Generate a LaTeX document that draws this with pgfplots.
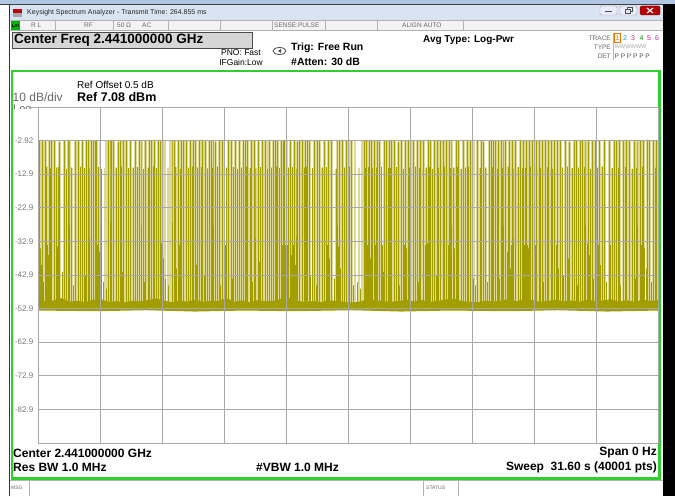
\documentclass[border=0pt]{standalone}
\usepackage{pgfplots}
\pgfplotsset{compat=1.18}
\usepackage{pgfplotstable}
\usepackage{fontspec}
\setmainfont{Liberation Sans}

\definecolor{trace}{RGB}{163,158,0}
\definecolor{tracepale}{RGB}{222,218,150}
\definecolor{scrgreen}{RGB}{46,208,46}
\definecolor{gridgray}{RGB}{168,168,168}
\definecolor{titlebar}{RGB}{216,228,242}
\definecolor{topband}{RGB}{176,198,226}
\definecolor{rowgray}{RGB}{243,243,243}
\definecolor{boxgray}{RGB}{214,214,214}
\definecolor{labgray}{RGB}{120,120,120}
\newcommand{\fs}[1]{\fontsize{#1}{#1}\selectfont}

% zero span trace, one spike per burst: floor, peak, floor
% bursts reaching ~ -2.8 dBm
\pgfplotstableread[row sep=\\]{
x y\\
0.10 -52\\0.10 -2.8\\0.10 -52\\0.24 -52\\0.24 -2.7\\0.24 -52\\0.37 -52\\0.37 -2.8\\0.37 -52\\
0.58 -52\\0.58 -2.8\\0.58 -52\\0.71 -52\\0.71 -2.9\\0.71 -52\\0.82 -52\\0.82 -2.8\\0.82 -52\\
1.12 -52\\1.12 -3.2\\1.12 -52\\1.33 -52\\1.33 -2.8\\1.33 -52\\1.53 -52\\1.53 -2.7\\1.53 -52\\
1.63 -52\\1.63 -2.8\\1.63 -52\\1.90 -52\\1.90 -2.8\\1.90 -52\\2.07 -52\\2.07 -2.9\\2.07 -52\\
2.28 -52\\2.28 -2.8\\2.28 -52\\2.48 -52\\2.48 -2.8\\2.48 -52\\2.58 -52\\2.58 -2.7\\2.58 -52\\
2.72 -52\\2.72 -2.8\\2.72 -52\\2.82 -52\\2.82 -2.8\\2.82 -52\\2.92 -52\\2.92 -3.0\\2.92 -52\\
2.99 -52\\2.99 -2.8\\2.99 -52\\3.57 -52\\3.57 -2.8\\3.57 -52\\3.67 -52\\3.67 -2.7\\3.67 -52\\
3.77 -52\\3.77 -2.8\\3.77 -52\\3.87 -52\\3.87 -2.8\\3.87 -52\\4.08 -52\\4.08 -3.2\\4.08 -52\\
4.18 -52\\4.18 -2.8\\4.18 -52\\4.35 -52\\4.35 -2.8\\4.35 -52\\4.52 -52\\4.52 -2.9\\4.52 -52\\
4.72 -52\\4.72 -2.8\\4.72 -52\\4.96 -52\\4.96 -2.7\\4.96 -52\\5.16 -52\\5.16 -2.8\\5.16 -52\\
5.30 -52\\5.30 -2.8\\5.30 -52\\5.50 -52\\5.50 -2.8\\5.50 -52\\5.67 -52\\5.67 -3.0\\5.67 -52\\
5.78 -52\\5.78 -2.8\\5.78 -52\\5.95 -52\\5.95 -2.8\\5.95 -52\\6.12 -52\\6.12 -2.7\\6.12 -52\\
6.22 -52\\6.22 -2.8\\6.22 -52\\6.83 -52\\6.83 -2.8\\6.83 -52\\6.97 -52\\6.97 -2.9\\6.97 -52\\
7.14 -52\\7.14 -2.8\\7.14 -52\\7.30 -52\\7.30 -2.8\\7.30 -52\\7.44 -52\\7.44 -2.7\\7.44 -52\\
7.58 -52\\7.58 -2.8\\7.58 -52\\7.75 -52\\7.75 -2.8\\7.75 -52\\7.92 -52\\7.92 -3.0\\7.92 -52\\
8.05 -52\\8.05 -2.8\\8.05 -52\\8.22 -52\\8.22 -2.8\\8.22 -52\\8.39 -52\\8.39 -2.7\\8.39 -52\\
8.56 -52\\8.56 -2.8\\8.56 -52\\8.73 -52\\8.73 -2.9\\8.73 -52\\8.83 -52\\8.83 -2.8\\8.83 -52\\
8.97 -52\\8.97 -2.8\\8.97 -52\\9.07 -52\\9.07 -3.2\\9.07 -52\\9.24 -52\\9.24 -2.8\\9.24 -52\\
9.38 -52\\9.38 -2.8\\9.38 -52\\9.72 -52\\9.72 -2.7\\9.72 -52\\9.85 -52\\9.85 -2.8\\9.85 -52\\
10.09 -52\\10.09 -2.8\\10.09 -52\\10.26 -52\\10.26 -2.9\\10.26 -52\\10.47 -52\\10.47 -2.8\\10.47 -52\\
10.57 -52\\10.57 -2.8\\10.57 -52\\10.70 -52\\10.70 -2.7\\10.70 -52\\10.87 -52\\10.87 -2.8\\10.87 -52\\
11.01 -52\\11.01 -2.8\\11.01 -52\\11.25 -52\\11.25 -3.0\\11.25 -52\\11.45 -52\\11.45 -2.8\\11.45 -52\\
11.59 -52\\11.59 -2.8\\11.59 -52\\11.79 -52\\11.79 -2.7\\11.79 -52\\11.99 -52\\11.99 -2.8\\11.99 -52\\
12.10 -52\\12.10 -2.8\\12.10 -52\\12.23 -52\\12.23 -2.9\\12.23 -52\\12.40 -52\\12.40 -2.8\\12.40 -52\\
12.50 -52\\12.50 -2.8\\12.50 -52\\12.57 -52\\12.57 -2.7\\12.57 -52\\12.67 -52\\12.67 -2.8\\12.67 -52\\
12.88 -52\\12.88 -2.8\\12.88 -52\\13.05 -52\\13.05 -2.8\\13.05 -52\\13.22 -52\\13.22 -3.2\\13.22 -52\\
13.35 -52\\13.35 -2.8\\13.35 -52\\13.46 -52\\13.46 -2.7\\13.46 -52\\13.63 -52\\13.63 -2.8\\13.63 -52\\
13.76 -52\\13.76 -2.8\\13.76 -52\\13.86 -52\\13.86 -2.9\\13.86 -52\\14.10 -52\\14.10 -2.8\\14.10 -52\\
14.24 -52\\14.24 -2.8\\14.24 -52\\14.37 -52\\14.37 -2.7\\14.37 -52\\14.61 -52\\14.61 -2.8\\14.61 -52\\
14.82 -52\\14.82 -2.8\\14.82 -52\\14.95 -52\\14.95 -3.0\\14.95 -52\\15.29 -52\\15.29 -2.8\\15.29 -52\\
15.39 -52\\15.39 -2.8\\15.39 -52\\15.50 -52\\15.50 -2.7\\15.50 -52\\15.70 -52\\15.70 -2.8\\15.70 -52\\
15.84 -52\\15.84 -2.8\\15.84 -52\\15.97 -52\\15.97 -2.9\\15.97 -52\\
16.62 -52\\16.62 -2.8\\16.62 -52\\16.75 -52\\16.75 -2.8\\16.75 -52\\16.89 -52\\16.89 -2.7\\16.89 -52\\
16.99 -52\\16.99 -2.8\\16.99 -52\\17.13 -52\\17.13 -2.9\\17.13 -52\\17.29 -52\\17.29 -2.8\\17.29 -52\\
17.40 -52\\17.40 -2.8\\17.40 -52\\17.64 -52\\17.64 -3.0\\17.64 -52\\17.74 -52\\17.74 -2.8\\17.74 -52\\
17.91 -52\\17.91 -2.8\\17.91 -52\\18.04 -52\\18.04 -2.7\\18.04 -52\\18.18 -52\\18.18 -2.8\\18.18 -52\\
18.38 -52\\18.38 -3.2\\18.38 -52\\18.52 -52\\18.52 -2.8\\18.52 -52\\18.72 -52\\18.72 -2.8\\18.72 -52\\
18.86 -52\\18.86 -2.7\\18.86 -52\\19.00 -52\\19.00 -2.8\\19.00 -52\\19.13 -52\\19.13 -2.8\\19.13 -52\\
19.33 -52\\19.33 -2.9\\19.33 -52\\19.51 -52\\19.51 -2.8\\19.51 -52\\19.67 -52\\19.67 -2.8\\19.67 -52\\
19.88 -52\\19.88 -2.7\\19.88 -52\\20.01 -52\\20.01 -2.8\\20.01 -52\\20.22 -52\\20.22 -2.8\\20.22 -52\\
20.35 -52\\20.35 -3.0\\20.35 -52\\20.49 -52\\20.49 -2.8\\20.49 -52\\20.66 -52\\20.66 -2.8\\20.66 -52\\
20.80 -52\\20.80 -2.7\\20.80 -52\\20.96 -52\\20.96 -2.8\\20.96 -52\\21.10 -52\\21.10 -2.8\\21.10 -52\\
21.31 -52\\21.31 -2.9\\21.31 -52\\21.44 -52\\21.44 -2.8\\21.44 -52\\21.68 -52\\21.68 -2.8\\21.68 -52\\
21.88 -52\\21.88 -2.7\\21.88 -52\\22.05 -52\\22.05 -2.8\\22.05 -52\\22.39 -52\\22.39 -2.8\\22.39 -52\\
22.59 -52\\22.59 -2.8\\22.59 -52\\22.73 -52\\22.73 -3.2\\22.73 -52\\23.00 -52\\23.00 -2.8\\23.00 -52\\
23.11 -52\\23.11 -2.7\\23.11 -52\\23.24 -52\\23.24 -2.8\\23.24 -52\\23.34 -52\\23.34 -2.8\\23.34 -52\\
23.48 -52\\23.48 -2.9\\23.48 -52\\23.61 -52\\23.61 -2.8\\23.61 -52\\23.75 -52\\23.75 -2.8\\23.75 -52\\
23.85 -52\\23.85 -2.7\\23.85 -52\\24.02 -52\\24.02 -2.8\\24.02 -52\\
24.19 -52\\24.19 -2.8\\24.19 -52\\24.36 -52\\24.36 -2.8\\24.36 -52\\24.57 -52\\24.57 -2.7\\24.57 -52\\
24.74 -52\\24.74 -2.8\\24.74 -52\\24.91 -52\\24.91 -2.9\\24.91 -52\\25.04 -52\\25.04 -2.8\\25.04 -52\\
25.18 -52\\25.18 -2.8\\25.18 -52\\25.42 -52\\25.42 -3.0\\25.42 -52\\25.55 -52\\25.55 -2.8\\25.55 -52\\
25.69 -52\\25.69 -2.8\\25.69 -52\\25.86 -52\\25.86 -2.7\\25.86 -52\\26.03 -52\\26.03 -2.8\\26.03 -52\\
26.16 -52\\26.16 -2.8\\26.16 -52\\26.30 -52\\26.30 -2.9\\26.30 -52\\26.47 -52\\26.47 -2.8\\26.47 -52\\
26.61 -52\\26.61 -2.8\\26.61 -52\\26.88 -52\\26.88 -2.7\\26.88 -52\\27.08 -52\\27.08 -3.2\\27.08 -52\\
27.32 -52\\27.32 -2.8\\27.32 -52\\27.46 -52\\27.46 -2.8\\27.46 -52\\27.66 -52\\27.66 -2.8\\27.66 -52\\
27.76 -52\\27.76 -2.7\\27.76 -52\\27.93 -52\\27.93 -2.8\\27.93 -52\\28.07 -52\\28.07 -2.8\\28.07 -52\\
28.24 -52\\28.24 -2.9\\28.24 -52\\28.41 -52\\28.41 -2.8\\28.41 -52\\28.61 -52\\28.61 -2.8\\28.61 -52\\
28.88 -52\\28.88 -2.7\\28.88 -52\\29.15 -52\\29.15 -2.8\\29.15 -52\\29.36 -52\\29.36 -2.8\\29.36 -52\\
29.50 -52\\29.50 -3.0\\29.50 -52\\29.66 -52\\29.66 -2.8\\29.66 -52\\29.83 -52\\29.83 -2.8\\29.83 -52\\
30.01 -52\\30.01 -2.7\\30.01 -52\\30.17 -52\\30.17 -2.8\\30.17 -52\\30.38 -52\\30.38 -2.8\\30.38 -52\\
30.58 -52\\30.58 -2.9\\30.58 -52\\30.72 -52\\30.72 -2.8\\30.72 -52\\30.85 -52\\30.85 -2.8\\30.85 -52\\
31.06 -52\\31.06 -2.7\\31.06 -52\\31.19 -52\\31.19 -2.8\\31.19 -52\\31.36 -52\\31.36 -2.8\\31.36 -52\\
31.50 -52\\31.50 -2.8\\31.50 -52\\
}\talltab

% bursts reaching ~ -11 dBm
\pgfplotstableread[row sep=\\]{
x y\\
0.05 -52\\0.05 -11.0\\0.05 -52\\0.44 -52\\0.44 -10.7\\0.44 -52\\0.65 -52\\0.65 -11.2\\0.65 -52\\
0.92 -52\\0.92 -11.0\\0.92 -52\\1.02 -52\\1.02 -10.8\\1.02 -52\\1.43 -52\\1.43 -11.3\\1.43 -52\\
1.73 -52\\1.73 -11.0\\1.73 -52\\2.18 -52\\2.18 -10.7\\2.18 -52\\2.38 -52\\2.38 -11.1\\2.38 -52\\
2.65 -52\\2.65 -11.0\\2.65 -52\\3.06 -52\\3.06 -10.8\\3.06 -52\\3.23 -52\\3.23 -11.3\\3.23 -52\\
3.98 -52\\3.98 -11.0\\3.98 -52\\4.28 -52\\4.28 -10.7\\4.28 -52\\4.62 -52\\4.62 -11.1\\4.62 -52\\
4.86 -52\\4.86 -11.0\\4.86 -52\\5.06 -52\\5.06 -10.8\\5.06 -52\\5.40 -52\\5.40 -11.3\\5.40 -52\\
5.61 -52\\5.61 -11.0\\5.61 -52\\5.88 -52\\5.88 -10.7\\5.88 -52\\6.05 -52\\6.05 -11.1\\6.05 -52\\
6.36 -52\\6.36 -11.0\\6.36 -52\\7.03 -52\\7.03 -10.8\\7.03 -52\\7.24 -52\\7.24 -11.3\\7.24 -52\\
7.65 -52\\7.65 -11.0\\7.65 -52\\7.85 -52\\7.85 -10.7\\7.85 -52\\
8.12 -52\\8.12 -11.0\\8.12 -52\\8.33 -52\\8.33 -10.8\\8.33 -52\\8.63 -52\\8.63 -11.2\\8.63 -52\\
8.90 -52\\8.90 -11.0\\8.90 -52\\9.17 -52\\9.17 -10.7\\9.17 -52\\9.48 -52\\9.48 -11.1\\9.48 -52\\
9.62 -52\\9.62 -11.0\\9.62 -52\\9.96 -52\\9.96 -10.8\\9.96 -52\\10.16 -52\\10.16 -11.3\\10.16 -52\\
10.36 -52\\10.36 -11.0\\10.36 -52\\10.64 -52\\10.64 -10.7\\10.64 -52\\10.81 -52\\10.81 -11.1\\10.81 -52\\
11.11 -52\\11.11 -11.0\\11.11 -52\\11.35 -52\\11.35 -10.8\\11.35 -52\\11.69 -52\\11.69 -11.3\\11.69 -52\\
11.89 -52\\11.89 -11.0\\11.89 -52\\12.17 -52\\12.17 -10.7\\12.17 -52\\12.30 -52\\12.30 -11.1\\12.30 -52\\
12.78 -52\\12.78 -11.0\\12.78 -52\\12.98 -52\\12.98 -10.8\\12.98 -52\\13.15 -52\\13.15 -11.3\\13.15 -52\\
13.56 -52\\13.56 -11.0\\13.56 -52\\13.69 -52\\13.69 -10.7\\13.69 -52\\14.00 -52\\14.00 -11.1\\14.00 -52\\
14.48 -52\\14.48 -11.0\\14.48 -52\\14.71 -52\\14.71 -10.8\\14.71 -52\\15.19 -52\\15.19 -11.3\\15.19 -52\\
15.60 -52\\15.60 -11.0\\15.60 -52\\15.90 -52\\15.90 -10.7\\15.90 -52\\
16.68 -52\\16.68 -11.0\\16.68 -52\\16.82 -52\\16.82 -10.8\\16.82 -52\\17.06 -52\\17.06 -11.2\\17.06 -52\\
17.23 -52\\17.23 -11.0\\17.23 -52\\17.50 -52\\17.50 -10.7\\17.50 -52\\17.84 -52\\17.84 -11.1\\17.84 -52\\
17.98 -52\\17.98 -11.0\\17.98 -52\\18.28 -52\\18.28 -10.8\\18.28 -52\\18.62 -52\\18.62 -11.3\\18.62 -52\\
18.93 -52\\18.93 -11.0\\18.93 -52\\19.23 -52\\19.23 -10.7\\19.23 -52\\19.44 -52\\19.44 -11.1\\19.44 -52\\
19.78 -52\\19.78 -11.0\\19.78 -52\\19.95 -52\\19.95 -10.8\\19.95 -52\\20.12 -52\\20.12 -11.3\\20.12 -52\\
20.42 -52\\20.42 -11.0\\20.42 -52\\20.73 -52\\20.73 -10.7\\20.73 -52\\21.03 -52\\21.03 -11.1\\21.03 -52\\
21.20 -52\\21.20 -11.0\\21.20 -52\\21.37 -52\\21.37 -10.8\\21.37 -52\\21.58 -52\\21.58 -11.3\\21.58 -52\\
21.78 -52\\21.78 -11.0\\21.78 -52\\21.95 -52\\21.95 -10.7\\21.95 -52\\22.53 -52\\22.53 -11.1\\22.53 -52\\
22.83 -52\\22.83 -11.0\\22.83 -52\\23.14 -52\\23.14 -10.8\\23.14 -52\\23.41 -52\\23.41 -11.3\\23.41 -52\\
23.69 -52\\23.69 -11.0\\23.69 -52\\23.96 -52\\23.96 -10.7\\23.96 -52\\
24.26 -52\\24.26 -11.0\\24.26 -52\\24.47 -52\\24.47 -10.8\\24.47 -52\\24.67 -52\\24.67 -11.2\\24.67 -52\\
24.84 -52\\24.84 -11.0\\24.84 -52\\25.11 -52\\25.11 -10.7\\25.11 -52\\25.28 -52\\25.28 -11.1\\25.28 -52\\
25.62 -52\\25.62 -11.0\\25.62 -52\\25.96 -52\\25.96 -10.8\\25.96 -52\\26.23 -52\\26.23 -11.3\\26.23 -52\\
26.71 -52\\26.71 -11.0\\26.71 -52\\26.98 -52\\26.98 -10.7\\26.98 -52\\27.22 -52\\27.22 -11.1\\27.22 -52\\
27.56 -52\\27.56 -11.0\\27.56 -52\\27.87 -52\\27.87 -10.8\\27.87 -52\\28.17 -52\\28.17 -11.3\\28.17 -52\\
28.51 -52\\28.51 -11.0\\28.51 -52\\28.75 -52\\28.75 -10.7\\28.75 -52\\29.26 -52\\29.26 -11.1\\29.26 -52\\
29.60 -52\\29.60 -11.0\\29.60 -52\\29.93 -52\\29.93 -10.8\\29.93 -52\\30.28 -52\\30.28 -11.3\\30.28 -52\\
30.52 -52\\30.52 -11.0\\30.52 -52\\30.79 -52\\30.79 -10.7\\30.79 -52\\31.16 -52\\31.16 -11.1\\31.16 -52\\
31.46 -52\\31.46 -11.0\\31.46 -52\\
}\midtab

% faint (thin) bursts seen as pale columns
\pgfplotstableread[row sep=\\]{
x y\\
3.15 -52\\3.15 -2.8\\3.15 -52\\3.40 -52\\3.40 -11.0\\3.40 -52\\3.48 -52\\3.48 -2.8\\3.48 -52\\
6.45 -52\\6.45 -2.8\\6.45 -52\\6.62 -52\\6.62 -11.0\\6.62 -52\\6.72 -52\\6.72 -2.8\\6.72 -52\\
11.70 -52\\11.70 -2.8\\11.70 -52\\16.15 -52\\16.15 -2.8\\16.15 -52\\16.36 -52\\16.36 -11.0\\16.36 -52\\
16.50 -52\\16.50 -2.8\\16.50 -52\\22.22 -52\\22.22 -2.8\\22.22 -52\\
}\paletab

% weak bursts and noise spikes (-34 ... -47 dBm)
\pgfplotstableread[row sep=\\]{
x y\\
0.03 -52\\0.03 -34\\0.03 -52\\0.08 -52\\0.08 -33.5\\0.08 -52\\0.15 -52\\0.15 -35\\0.15 -52\\
0.20 -52\\0.20 -40\\0.20 -52\\0.50 -52\\0.50 -34\\0.50 -52\\0.55 -52\\0.55 -37\\0.55 -52\\
1.00 -52\\1.00 -34.5\\1.00 -52\\1.07 -52\\1.07 -39\\1.07 -52\\1.23 -52\\1.23 -42\\1.23 -52\\
2.85 -52\\2.85 -34\\2.85 -52\\2.95 -52\\2.95 -33.5\\2.95 -52\\3.05 -52\\3.05 -34\\3.05 -52\\
3.12 -52\\3.12 -36\\3.12 -52\\3.20 -52\\3.20 -40\\3.20 -52\\4.32 -52\\4.32 -42\\4.32 -52\\
5.95 -52\\5.95 -34\\5.95 -52\\6.02 -52\\6.02 -35\\6.02 -52\\6.15 -52\\6.15 -34\\6.15 -52\\
6.30 -52\\6.30 -33.5\\6.30 -52\\6.40 -52\\6.40 -38\\6.40 -52\\7.05 -52\\7.05 -41\\7.05 -52\\
7.20 -52\\7.20 -34\\7.20 -52\\8.00 -52\\8.00 -34.5\\8.00 -52\\8.06 -52\\8.06 -40\\8.06 -52\\
9.42 -52\\9.42 -34\\9.42 -52\\9.50 -52\\9.50 -33.5\\9.50 -52\\9.55 -52\\9.55 -34\\9.55 -52\\
9.60 -52\\9.60 -37\\9.60 -52\\10.45 -52\\10.45 -34\\10.45 -52\\10.55 -52\\10.55 -38\\10.55 -52\\
10.62 -52\\10.62 -42\\10.62 -52\\11.22 -52\\11.22 -34\\11.22 -52\\11.30 -52\\11.30 -39\\11.30 -52\\
12.45 -52\\12.45 -34\\12.45 -52\\12.52 -52\\12.52 -33.5\\12.52 -52\\12.60 -52\\12.60 -34\\12.60 -52\\
12.62 -52\\12.62 -35\\12.62 -52\\12.70 -52\\12.70 -34\\12.70 -52\\12.90 -52\\12.90 -37\\12.90 -52\\
13.00 -52\\13.00 -34\\13.00 -52\\13.10 -52\\13.10 -40\\13.10 -52\\14.75 -52\\14.75 -34\\14.75 -52\\
14.85 -52\\14.85 -38\\14.85 -52\\15.30 -52\\15.30 -34.5\\15.30 -52\\15.40 -52\\15.40 -41\\15.40 -52\\
16.65 -52\\16.65 -34\\16.65 -52\\16.72 -52\\16.72 -33.5\\16.72 -52\\16.78 -52\\16.78 -34\\16.78 -52\\
16.85 -52\\16.85 -35\\16.85 -52\\16.92 -52\\16.92 -38\\16.92 -52\\17.18 -52\\17.18 -34\\17.18 -52\\
17.26 -52\\17.26 -39\\17.26 -52\\17.55 -52\\17.55 -34\\17.55 -52\\17.60 -52\\17.60 -42\\17.60 -52\\
18.70 -52\\18.70 -34\\18.70 -52\\18.80 -52\\18.80 -35\\18.80 -52\\18.90 -52\\18.90 -40\\18.90 -52\\
19.75 -52\\19.75 -34\\19.75 -52\\19.85 -52\\19.85 -33.5\\19.85 -52\\19.92 -52\\19.92 -37\\19.92 -52\\
20.90 -52\\20.90 -34\\20.90 -52\\21.00 -52\\21.00 -33.5\\21.00 -52\\21.15 -52\\21.15 -34\\21.15 -52\\
21.25 -52\\21.25 -35\\21.25 -52\\21.40 -52\\21.40 -39\\21.40 -52\\23.80 -52\\23.80 -34\\23.80 -52\\
23.92 -52\\23.92 -36\\23.92 -52\\24.05 -52\\24.05 -34\\24.05 -52\\24.10 -52\\24.10 -41\\24.10 -52\\
24.15 -52\\24.15 -34\\24.15 -52\\24.80 -52\\24.80 -34\\24.80 -52\\24.88 -52\\24.88 -33.5\\24.88 -52\\
24.95 -52\\24.95 -34\\24.95 -52\\25.00 -52\\25.00 -35\\25.00 -52\\25.08 -52\\25.08 -38\\25.08 -52\\
25.35 -52\\25.35 -34\\25.35 -52\\25.40 -52\\25.40 -40\\25.40 -52\\26.40 -52\\26.40 -34\\26.40 -52\\
26.50 -52\\26.50 -36\\26.50 -52\\26.55 -52\\26.55 -41\\26.55 -52\\27.00 -52\\27.00 -34\\27.00 -52\\
27.05 -52\\27.05 -38\\27.05 -52\\27.90 -52\\27.90 -34\\27.90 -52\\28.00 -52\\28.00 -33.5\\28.00 -52\\
28.10 -52\\28.10 -37\\28.10 -52\\28.55 -52\\28.55 -34\\28.55 -52\\28.65 -52\\28.65 -40\\28.65 -52\\
29.20 -52\\29.20 -34\\29.20 -52\\29.30 -52\\29.30 -33.5\\29.30 -52\\29.40 -52\\29.40 -36\\29.40 -52\\
29.85 -52\\29.85 -34\\29.85 -52\\29.95 -52\\29.95 -39\\29.95 -52\\30.75 -52\\30.75 -34\\30.75 -52\\
30.90 -52\\30.90 -35\\30.90 -52\\31.00 -52\\31.00 -41\\31.00 -52\\
0.30 -52\\0.30 -45\\0.30 -52\\0.95 -52\\0.95 -44\\0.95 -52\\1.80 -52\\1.80 -46\\1.80 -52\\
2.40 -52\\2.40 -43\\2.40 -52\\3.35 -52\\3.35 -45\\3.35 -52\\3.50 -52\\3.50 -47\\3.50 -52\\
4.00 -52\\4.00 -44\\4.00 -52\\4.60 -52\\4.60 -46\\4.60 -52\\5.40 -52\\5.40 -45\\5.40 -52\\
6.50 -52\\6.50 -44\\6.50 -52\\6.65 -52\\6.65 -46\\6.65 -52\\7.40 -52\\7.40 -45\\7.40 -52\\
8.50 -52\\8.50 -43\\8.50 -52\\9.30 -52\\9.30 -46\\9.30 -52\\9.90 -52\\9.90 -44\\9.90 -52\\
10.95 -52\\10.95 -45\\10.95 -52\\11.60 -52\\11.60 -46\\11.60 -52\\12.00 -52\\12.00 -44\\12.00 -52\\
13.30 -52\\13.30 -45\\13.30 -52\\13.90 -52\\13.90 -43\\13.90 -52\\14.20 -52\\14.20 -46\\14.20 -52\\
15.10 -52\\15.10 -44\\15.10 -52\\15.60 -52\\15.60 -45\\15.60 -52\\16.10 -52\\16.10 -46\\16.10 -52\\
16.30 -52\\16.30 -45\\16.30 -52\\16.45 -52\\16.45 -47\\16.45 -52\\17.85 -52\\17.85 -44\\17.85 -52\\
18.40 -52\\18.40 -46\\18.40 -52\\19.40 -52\\19.40 -45\\19.40 -52\\20.30 -52\\20.30 -43\\20.30 -52\\
21.60 -52\\21.60 -46\\21.60 -52\\22.20 -52\\22.20 -44\\22.20 -52\\22.30 -52\\22.30 -46\\22.30 -52\\
22.90 -52\\22.90 -45\\22.90 -52\\23.50 -52\\23.50 -44\\23.50 -52\\24.60 -52\\24.60 -46\\24.60 -52\\
25.75 -52\\25.75 -45\\25.75 -52\\26.80 -52\\26.80 -43\\26.80 -52\\27.50 -52\\27.50 -46\\27.50 -52\\
28.30 -52\\28.30 -44\\28.30 -52\\28.95 -52\\28.95 -45\\28.95 -52\\29.70 -52\\29.70 -46\\29.70 -52\\
30.45 -52\\30.45 -44\\30.45 -52\\31.25 -52\\31.25 -45\\31.25 -52\\
}\lowtab

\begin{document}
\begin{tikzpicture}[x=1pt,y=1pt]
\useasboundingbox (0,0) rectangle (675,496);
\fill[white] (0,0) rectangle (675,496);
% window chrome
\fill[topband] (0,492) rectangle (675,496);
\draw[black!75, line width=0.8pt] (0,491.8) -- (675,491.8);
\fill[black] (663,0) rectangle (675,491.5);
\fill[titlebar] (10,476) rectangle (663,491.4);
\draw[black!80, line width=1pt] (9.5,0) -- (9.5,491.5);
\fill[red!75!black] (12.5,483) rectangle (21.5,487);
\fill[gray!70] (12.5,479) rectangle (21.5,483);
\node[anchor=west, inner sep=0pt, text=black!85] at (27,483.5) {\fs{7}Keysight Spectrum Analyzer - Transmit Time: 264.855 ms};
\filldraw[fill=blue!8, draw=gray!70, rounded corners=1.5pt] (600,481) rectangle (617,490);
\draw[black!70, line width=1pt] (605,484) -- (612,484);
\filldraw[fill=blue!8, draw=gray!70, rounded corners=1.5pt] (620,481) rectangle (637,490);
\draw[black!70] (625,483) rectangle (630,487) (627,487) -- (627,489) -- (632,489) -- (632,485) -- (630,485);
\filldraw[fill=red!70!black, draw=red!50!black, rounded corners=1.5pt] (640,481) rectangle (660,490);
\draw[white, line width=1.2pt] (647,483) -- (653,488) (647,488) -- (653,483);
% status row
\fill[rowgray] (10,465) rectangle (663,476);
\draw[gray!60] (10,465.3) -- (663,465.3) (10,475.7) -- (663,475.7);
\foreach \sx in {55,113,168,220,272,325,377,463} \draw[gray!60] (\sx,465) -- (\sx,476);
\fill[green!70!black] (10.5,466) rectangle (20,475);
\node[inner sep=0pt] at (15.3,470.5) {\fs{4.5}\bfseries LXI};
\begin{scope}[every node/.style={anchor=west, inner sep=0pt, text=black!60}]
\node at (31,470.5) {\fs{6.5}R L};
\node at (84,470.5) {\fs{6.5}RF};
\node at (117,470.5) {\fs{6.5}50 Ω};
\node at (142,470.5) {\fs{6.5}AC};
\node at (274,470.5) {\fs{6.5}SENSE:PULSE};
\node at (402,470.5) {\fs{6.5}ALIGN AUTO};
\end{scope}
% measurement header
\filldraw[fill=boxgray, draw=black!70, line width=0.8pt] (12,448) rectangle (252,464);
\node[anchor=west, inner sep=0pt] at (14,456) {\fs{13.5}\bfseries Center Freq 2.441000000 GHz};
\node[anchor=east, inner sep=0pt] at (261,443) {\fs{8.5}PNO: Fast};
\node[anchor=east, inner sep=0pt] at (263,434) {\fs{8.5}IFGain:Low};
\draw[black!70, line width=0.8pt] (279.5,445) ellipse (6.5 and 3.5);
\fill[black!70] (278,445) -- (281,447) -- (281,443) -- cycle;
\node[anchor=west, inner sep=0pt] at (291,448) {\fs{10.5}\bfseries Trig: Free Run};
\node[anchor=west, inner sep=0pt] at (291,434.5) {\fs{10.5}\bfseries \#Atten: 30 dB};
\node[anchor=west, inner sep=0pt] at (423,456) {\fs{10}\bfseries Avg Type: Log-Pwr};
\begin{scope}[every node/.style={inner sep=0pt}]
\node[anchor=east, text=black!60] at (611,458) {\fs{6.5}TRACE};
\node[anchor=east, text=black!60] at (611,449) {\fs{6.5}TYPE};
\node[anchor=east, text=black!60] at (611,440) {\fs{6.5}DET};
\draw[gray!60] (613.5,436) -- (613.5,463);
\draw[orange!90!black, line width=0.5pt] (614,453.5) rectangle (620.5,462.5);
\node[text=orange!90!black] at (617.2,458) {\fs{7}1};
\node[text=cyan!80!black] at (625,458) {\fs{7}2};
\node[text=magenta!80!black] at (633,458) {\fs{7}3};
\node[text=green!60!black] at (641.5,458) {\fs{7}4};
\node[text=magenta] at (649,458) {\fs{7}5};
\node[text=violet!80] at (657,458) {\fs{7}6};
\node[anchor=west, text=black!35] at (614.5,449) {\fs{5.6}WWWWWW};
\node[anchor=west, text=black!70] at (614.5,440) {\fs{6.5}P P P P P P};
\end{scope}
% screen
\draw[scrgreen, line width=2.6pt] (12,17.5) rectangle (659.5,425);
\node[anchor=west, inner sep=0pt] at (77,411) {\fs{10}Ref Offset 0.5 dB};
\node[anchor=west, inner sep=0pt] at (77,398.5) {\fs{12.5}\bfseries Ref 7.08 dBm};
\node[anchor=west, inner sep=0pt, text=black!60] at (12.5,398.8) {\fs{12}10 dB/div};
\begin{scope}
\clip (12,387) rectangle (36,393);
\node[anchor=base west, inner sep=0pt, text=black!60] at (13,383.6) {\fs{11}Log};
\end{scope}
\draw[gridgray, line width=0.8pt] (30,389) -- (38,389);
\begin{axis}[
  at={(38pt,53pt)}, anchor=south west,
  scale only axis, width=620pt, height=336pt,
  xmin=0, xmax=31.6, ymin=-92.92, ymax=7.08,
  xtick={0,3.16,6.32,9.48,12.64,15.8,18.96,22.12,25.28,28.44,31.6},
  xticklabels={},
  ytick={-82.92,-72.92,-62.92,-52.92,-42.92,-32.92,-22.92,-12.92,-2.92},
  yticklabels={-82.9,-72.9,-62.9,-52.9,-42.9,-32.9,-22.9,-12.9,-2.92},
  major tick length=0pt,
  grid=major,
  major grid style={draw=gridgray, line width=0.8pt},
  axis line style={draw=gridgray, line width=0.8pt},
  yticklabel style={font=\fs{8}, text=labgray, anchor=east, inner sep=0pt, xshift=-4.5pt},
  axis on top,
]
\addplot[draw=tracepale, line width=3pt, line join=bevel] table {\talltab};
\addplot[draw=tracepale, line width=2.2pt, line join=bevel] table {\midtab};
\addplot[draw=tracepale, line width=2.2pt, line join=bevel] table {\paletab};
\addplot[draw=trace, line width=1pt, line join=bevel] table {\talltab};
\addplot[draw=trace, line width=1pt, line join=bevel] table {\midtab};
\addplot[draw=trace, line width=0.9pt, line join=bevel] table {\lowtab};
% noise floor band
\addplot[fill=trace, draw=none] coordinates {
(0,-50.2)(0.4,-50.8)(0.8,-50.5)(1.2,-49.8)(1.6,-50.9)(2.0,-50.6)(2.4,-51.0)(2.8,-50.3)
(3.2,-50.1)(3.6,-50.9)(4.0,-50.7)(4.4,-51.1)(4.8,-50.6)(5.2,-50.8)(5.6,-50.4)(6.0,-49.9)
(6.4,-50.5)(6.8,-51.0)(7.2,-50.6)(7.6,-50.8)(8.0,-50.3)(8.4,-50.9)(8.8,-50.6)(9.2,-50.7)
(9.6,-49.8)(10.0,-50.9)(10.4,-50.5)(10.8,-51.0)(11.2,-50.4)(11.6,-50.8)(12.0,-50.6)(12.4,-50.0)
(12.8,-49.7)(13.2,-50.6)(13.6,-50.9)(14.0,-50.7)(14.4,-51.0)(14.8,-50.5)(15.2,-50.6)(15.6,-50.9)
(16.0,-51.1)(16.4,-50.8)(16.8,-50.2)(17.2,-50.5)(17.6,-50.7)(18.0,-50.9)(18.4,-50.6)(18.8,-50.3)
(19.2,-50.8)(19.6,-50.4)(20.0,-50.9)(20.4,-50.6)(20.8,-50.2)(21.2,-50.0)(21.6,-50.7)(22.0,-50.9)
(22.4,-51.0)(22.8,-50.6)(23.2,-50.8)(23.6,-50.5)(24.0,-50.1)(24.4,-50.7)(24.8,-50.0)(25.2,-50.4)
(25.6,-50.9)(26.0,-50.6)(26.4,-50.3)(26.8,-50.8)(27.2,-50.5)(27.6,-50.9)(28.0,-50.3)(28.4,-50.7)
(28.8,-50.5)(29.2,-50.1)(29.6,-50.8)(30.0,-50.4)(30.4,-50.9)(30.8,-50.3)(31.2,-50.6)(31.6,-50.4)
(31.6,-53.5)(29.0,-53.8)(26.5,-53.4)(24.0,-53.7)(21.0,-53.5)(18.5,-53.8)(16.0,-53.4)
(13.0,-53.7)(10.5,-53.5)(8.0,-53.8)(5.5,-53.4)(3.0,-53.7)(0,-53.5)
};
\draw[black!50, line width=1.6pt] (rel axis cs:0,0) -- (rel axis cs:0,1);
\end{axis}
% footer
\node[anchor=west, inner sep=0pt] at (13,43) {\fs{12}\bfseries Center 2.441000000 GHz};
\node[anchor=east, inner sep=0pt] at (657,43) {\fs{12}\bfseries Span 0 Hz};
\node[anchor=west, inner sep=0pt] at (13,29) {\fs{12}\bfseries Res BW 1.0 MHz};
\node[anchor=west, inner sep=0pt] at (256,29) {\fs{12}\bfseries \#VBW 1.0 MHz};
\node[anchor=east, inner sep=0pt] at (657,29) {\fs{12}\bfseries Sweep\ \ 31.60 s (40001 pts)};
% message bar
\draw[gray!60] (10,15.5) -- (663,15.5);
\draw[gray!60] (29,0) -- (29,15.5) (423,0) -- (423,15.5) (458,0) -- (458,15.5);
\node[anchor=west, inner sep=0pt, text=black!60] at (11,8) {\fs{5}MSG};
\node[anchor=west, inner sep=0pt, text=black!60] at (426,8.5) {\fs{5}STATUS};
\end{tikzpicture}
\end{document}
